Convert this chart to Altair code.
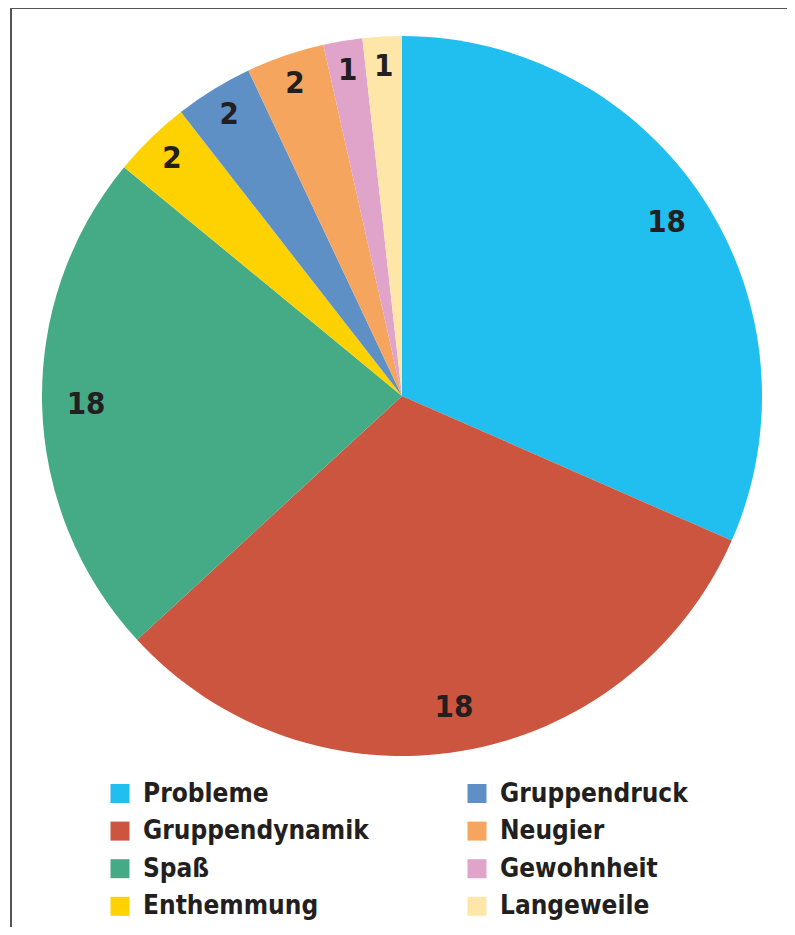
import altair as alt
import pandas as pd

categories = ["Probleme", "Gruppendynamik", "Spaß", "Enthemmung",
              "Gruppendruck", "Neugier", "Gewohnheit", "Langeweile"]
values = [18, 18, 13, 2, 2, 2, 1, 1]
labels = ["18", "18", "18", "2", "2", "2", "1", "1"]
colors = ["#20BFEF", "#CC553F", "#45AA86", "#FDD200",
          "#5E90C6", "#F6A55F", "#E0A4CA", "#FDE6A8"]

df = pd.DataFrame({"cat": categories, "value": values,
                   "label": labels, "idx": list(range(len(categories)))})

FONT = "DejaVu Sans Condensed, Liberation Sans Narrow, Roboto, sans-serif"
TXT = "#231F20"
CX, CY = 394, 388

base = alt.Chart(df).encode(
    theta=alt.Theta("value:Q", stack=True),
    order=alt.Order("idx:Q", sort="ascending"),
)

pie = base.mark_arc(outerRadius=360).encode(
    x=alt.value(CX), y=alt.value(CY),
    color=alt.Color(
        "cat:N",
        scale=alt.Scale(domain=categories, range=colors),
        legend=alt.Legend(
            title=None, orient="none", legendX=99, legendY=772.5,
            columns=2, columnPadding=95, rowPadding=11.6,
            symbolType="square", symbolSize=361, symbolStrokeWidth=0,
            symbolOpacity=1,
            labelFont=FONT, labelFontSize=26, labelFontWeight="bold",
            labelColor=TXT, labelOffset=10, labelLimit=0,
        ),
    ),
)

text_style = dict(font=FONT, fontSize=31, fontWeight="bold", color=TXT,
                  align="center", baseline="middle")

text_big = base.mark_text(radius=316, **text_style).encode(
    x=alt.value(CX), y=alt.value(CY),
    text=alt.condition("datum.value >= 10", alt.Text("label:N"), alt.value("")),
)
text_small = base.mark_text(radius=330, **text_style).encode(
    x=alt.value(CX), y=alt.value(CY),
    text=alt.condition("datum.value < 10", alt.Text("label:N"), alt.value("")),
)

border_left = alt.Chart(df).mark_rule(color="#555555", strokeWidth=2).encode(
    x=alt.value(3), y=alt.value(0), y2=alt.value(919))
border_top = alt.Chart(df).mark_rule(color="#555555", strokeWidth=2).encode(
    x=alt.value(3), x2=alt.value(779), y=alt.value(0))

chart = alt.layer(pie, text_big, text_small, border_left, border_top).properties(
    width=779, height=919, padding=0, autosize="none"
).configure_view(stroke=None)

chart.save("out.html", embed_options={"renderer": "svg", "actions": False})
